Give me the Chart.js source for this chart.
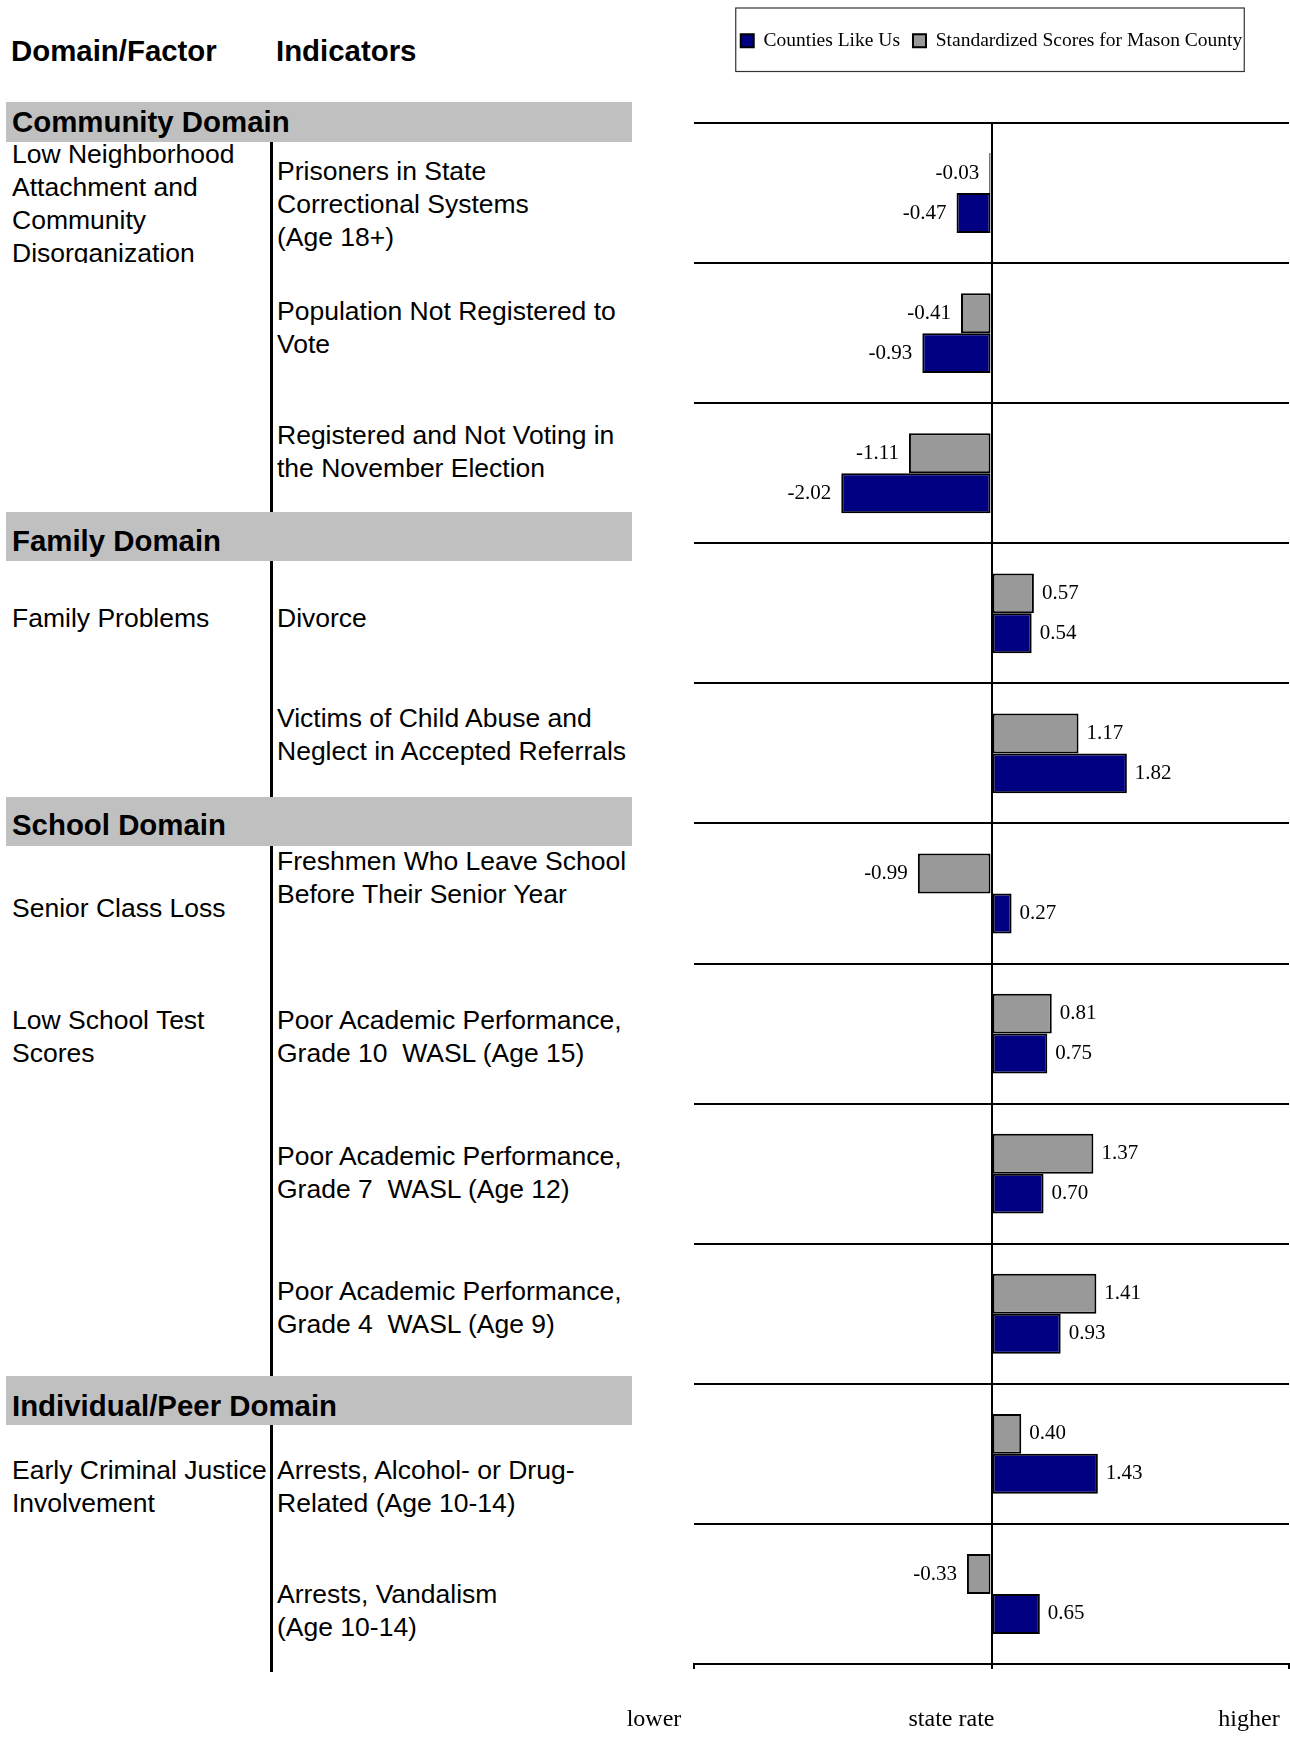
<!DOCTYPE html>
<html>
<head>
<meta charset="utf-8">
<title>Mason County risk factor profile</title>
<script src="https://cdn.jsdelivr.net/npm/chart.js@4.4.1/dist/chart.umd.min.js"></script>
<style>
  body { margin: 0; background: #fff; width: 1290px; height: 1737px; position: relative; overflow: hidden;
         font-family: "Liberation Sans", Arial, sans-serif; color: #000; }
  .t { position: absolute; font-size: 26.5px; line-height: 33px; white-space: pre; }
  .hd { position: absolute; font-size: 29.4px; line-height: 33px; font-weight: bold; white-space: pre; }
  .band { position: absolute; left: 6px; width: 626px; background: #c0c0c0; }
  .sep { position: absolute; left: 270px; width: 3px; background: #000; }
  #wrap { position: absolute; left: 600px; top: 0; width: 690px; height: 1737px; }
</style>
</head>
<body>

<div class="hd" style="left:11px;top:34px">Domain/Factor</div>
<div class="hd" style="left:276px;top:34px">Indicators</div>

<div class="band" style="top:102px;height:40px"></div>
<div class="band" style="top:512px;height:49px"></div>
<div class="band" style="top:797px;height:49px"></div>
<div class="band" style="top:1376px;height:49px"></div>
<div class="hd" style="left:12px;top:105px">Community Domain</div>
<div class="hd" style="left:12px;top:524px">Family Domain</div>
<div class="hd" style="left:12px;top:808px">School Domain</div>
<div class="hd" style="left:12px;top:1389px">Individual/Peer Domain</div>

<div class="sep" style="top:142px;height:370px"></div>
<div class="sep" style="top:561px;height:236px"></div>
<div class="sep" style="top:846px;height:530px"></div>
<div class="sep" style="top:1425px;height:247px"></div>

<!-- risk factors -->
<div class="t" style="left:12px;top:138px;height:125px;overflow:hidden">Low Neighborhood
Attachment and
Community
Disorganization</div>
<div class="t" style="left:12px;top:602px">Family Problems</div>
<div class="t" style="left:12px;top:892px">Senior Class Loss</div>
<div class="t" style="left:12px;top:1004px">Low School Test
Scores</div>
<div class="t" style="left:12px;top:1454px">Early Criminal Justice
Involvement</div>

<!-- indicators -->
<div class="t" style="left:277px;top:155px">Prisoners in State
Correctional Systems
(Age 18+)</div>
<div class="t" style="left:277px;top:295px">Population Not Registered to
Vote</div>
<div class="t" style="left:277px;top:419px">Registered and Not Voting in
the November Election</div>
<div class="t" style="left:277px;top:602px">Divorce</div>
<div class="t" style="left:277px;top:702px">Victims of Child Abuse and
Neglect in Accepted Referrals</div>
<div class="t" style="left:277px;top:845px">Freshmen Who Leave School
Before Their Senior Year</div>
<div class="t" style="left:277px;top:1004px">Poor Academic Performance,
Grade 10  WASL (Age 15)</div>
<div class="t" style="left:277px;top:1140px">Poor Academic Performance,
Grade 7  WASL (Age 12)</div>
<div class="t" style="left:277px;top:1275px">Poor Academic Performance,
Grade 4  WASL (Age 9)</div>
<div class="t" style="left:277px;top:1454px">Arrests, Alcohol- or Drug-
Related (Age 10-14)</div>
<div class="t" style="left:277px;top:1578px">Arrests, Vandalism
(Age 10-14)</div>

<div id="wrap"><canvas id="grafikSkor" width="690" height="1737"></canvas></div>

<script>
// indicators, top to bottom
const categories = [
  'Prisoners in State Correctional Systems (Age 18+)',
  'Population Not Registered to Vote',
  'Registered and Not Voting in the November Election',
  'Divorce',
  'Victims of Child Abuse and Neglect in Accepted Referrals',
  'Freshmen Who Leave School Before Their Senior Year',
  'Poor Academic Performance, Grade 10  WASL (Age 15)',
  'Poor Academic Performance, Grade 7  WASL (Age 12)',
  'Poor Academic Performance, Grade 4  WASL (Age 9)',
  'Arrests, Alcohol- or Drug-Related (Age 10-14)',
  'Arrests, Vandalism (Age 10-14)'
];
const masonScores = [-0.03, -0.41, -1.11, 0.57, 1.17, -0.99, 0.81, 1.37, 1.41, 0.40, -0.33];
const countiesScores = [-0.47, -0.93, -2.02, 0.54, 1.82, 0.27, 0.75, 0.70, 0.93, 1.43, 0.65];
const tickValues = [-4, 0, 4];
const tickLabels = ['lower', 'state rate', 'higher'];

const serif = '"Liberation Serif", "Times New Roman", serif';

// push the plot down below the legend
const legendSpace = {
  id: 'legendSpace',
  beforeInit: function (chart) {
    const fitAsli = chart.legend.fit;
    chart.legend.fit = function () {
      fitAsli.call(this);
      this.height = 105;
    };
  }
};

// thin frame round the legend
const legendBox = {
  id: 'legendBox',
  afterDraw: function (chart) {
    const boxes = chart.legend.legendHitBoxes;
    if (!boxes || !boxes.length) return;
    const first = boxes[0];
    const last = boxes[boxes.length - 1];
    const kiri = first.left - 5;
    const kanan = last.left + last.width + 2;
    const ctx = chart.ctx;
    ctx.save();
    ctx.strokeStyle = '#333';
    ctx.lineWidth = 1.2;
    ctx.strokeRect(kiri, first.top - 23, kanan - kiri, first.height + 44);
    ctx.restore();
  }
};

// value next to every bar
const valueLabels = {
  id: 'valueLabels',
  afterDatasetsDraw: function (chart) {
    const ctx = chart.ctx;
    ctx.save();
    ctx.font = '21px ' + serif;
    ctx.fillStyle = '#000';
    ctx.textBaseline = 'middle';
    chart.data.datasets.forEach(function (ds, i) {
      chart.getDatasetMeta(i).data.forEach(function (bar, j) {
        const v = ds.data[j];
        ctx.textAlign = v < 0 ? 'right' : 'left';
        ctx.fillText(v.toFixed(2), bar.x + (v < 0 ? -10 : 8), bar.y);
      });
    });
    ctx.restore();
  }
};

new Chart('grafikSkor', {
  type: 'bar',
  data: {
    labels: categories,
    datasets: [{
      label: 'Standardized Scores for Mason County',
      data: masonScores,
      backgroundColor: '#999999',
      borderColor: '#000',
      borderWidth: 2,
      borderSkipped: false,
      categoryPercentage: 0.57,
      barPercentage: 1
    }, {
      label: 'Counties Like Us',
      data: countiesScores,
      backgroundColor: '#000080',
      borderColor: '#000',
      borderWidth: 2,
      borderSkipped: false,
      categoryPercentage: 0.57,
      barPercentage: 1
    }]
  },
  options: {
    indexAxis: 'y',
    responsive: false,
    animation: false,
    layout: { padding: { top: 18, left: 94, right: 1, bottom: 0 } },
    plugins: {
      tooltip: { enabled: false },
      legend: {
        reverse: true,
        labels: {
          boxWidth: 13,
          boxHeight: 13,
          padding: 13,
          color: '#000',
          font: { family: serif, size: 19.5 }
        }
      }
    },
    scales: {
      x: {
        min: -4,
        max: 4,
        afterBuildTicks: function (scale) {
          scale.ticks = tickValues.map(function (v) { return { value: v }; });
        },
        afterFit: function (scale) {
          scale.height = 73;
          scale.paddingLeft = 0;
          scale.paddingRight = 0;
        },
        grid: {
          color: function (c) { return (c.tick && c.tick.value === 0) ? '#000' : 'rgba(0,0,0,0)'; },
          lineWidth: 2,
          tickColor: '#000',
          tickWidth: 2,
          tickLength: 5
        },
        border: { display: true, color: '#000', width: 2 },
        ticks: {
          autoSkip: false,
          maxRotation: 0,
          padding: 36,
          labelOffset: -40,
          color: '#000',
          font: { family: serif, size: 24 },
          callback: function (value) { return tickLabels[tickValues.indexOf(value)]; }
        }
      },
      y: {
        afterFit: function (scale) { scale.width = 0; },
        ticks: { display: false },
        grid: { color: '#000', lineWidth: 2, drawTicks: false, offset: true },
        border: { display: false }
      }
    }
  },
  plugins: [legendSpace, legendBox, valueLabels]
});
</script>
</body>
</html>
